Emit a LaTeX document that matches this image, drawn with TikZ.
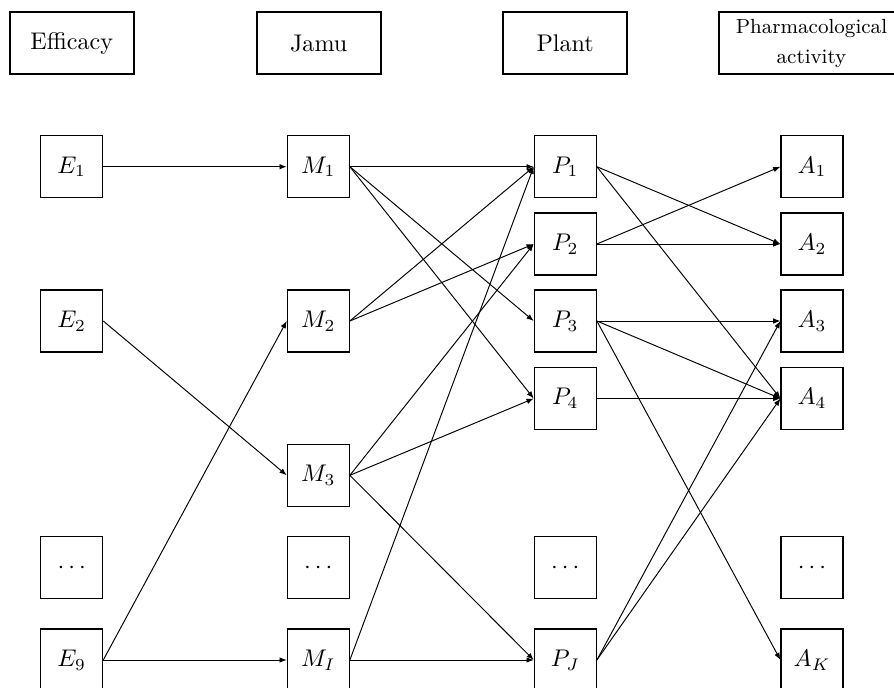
\documentclass[tikz,border=0pt]{standalone}
\usetikzlibrary{arrows.meta}
\begin{document}
\begin{tikzpicture}[x=0.415pt,y=-0.415pt,
  hdr/.style={draw,line width=0.75pt,inner sep=0pt,minimum width=51.5pt,minimum height=25.6pt,font=\fontsize{10}{12}\selectfont},
  box/.style={draw,line width=0.5pt,inner sep=0pt,minimum size=25.7pt},
  arr/.style={line width=0.4pt,-{Latex[length=3pt,width=2.3pt]}}]
\useasboundingbox (0,0) rectangle (894,688);
\clip (0,0) rectangle (894,688);
% headers
\node[hdr] (hE) at (71.7,43.2) {Efficacy};
\node[hdr] (hM) at (318.7,43.2) {Jamu};
\node[hdr] (hP) at (565.2,43.2) {Plant};
\node[hdr,minimum width=76.5pt,align=center,font=\fontsize{8.5}{12.4}\selectfont] (hA) at (811.5,43.2) {Pharmacological\\activity};
% column E
\node[box] (E1) at (71.7,166.7) {$E_1$};
\node[box] (E2) at (71.7,321) {$E_2$};
\node[box] (Ed) at (71.7,567.7) {$\cdots$};
\node[box] (E9) at (71.7,660) {$E_9$};
% column M
\node[box] (M1) at (318.3,166.7) {$M_1$};
\node[box] (M2) at (318.3,321) {$M_2$};
\node[box] (M3) at (318.3,475.3) {$M_3$};
\node[box] (Md) at (318.3,567.7) {$\cdots$};
\node[box] (MI) at (318.3,660) {$M_I$};
% column P
\node[box] (P1) at (565.3,166.7) {$P_1$};
\node[box] (P2) at (565.3,244) {$P_2$};
\node[box] (P3) at (565.3,321) {$P_3$};
\node[box] (P4) at (565.3,398.5) {$P_4$};
\node[box] (Pd) at (565.3,567.7) {$\cdots$};
\node[box] (PJ) at (565.3,660) {$P_J$};
% column A
\node[box] (A1) at (812,166.7) {$A_1$};
\node[box] (A2) at (812,244) {$A_2$};
\node[box] (A3) at (812,321) {$A_3$};
\node[box] (A4) at (812,398.5) {$A_4$};
\node[box] (Ad) at (812,567.7) {$\cdots$};
\node[box] (AK) at (812,660) {$A_K$};
% E -> M
\draw[arr] (E1.east) -- (M1.west);
\draw[arr] (E2.east) -- (M3.west);
\draw[arr] (E9.east) -- (M2.west);
\draw[arr] (E9.east) -- (MI.west);
% M -> P
\draw[arr] (M1.east) -- (P1.west);
\draw[arr] (M1.east) -- (P3.west);
\draw[arr] (M1.east) -- (P4.west);
\draw[arr] (M2.east) -- (P1.west);
\draw[arr] (M2.east) -- (P2.west);
\draw[arr] (M3.east) -- (P2.west);
\draw[arr] (M3.east) -- (P4.west);
\draw[arr] (M3.east) -- (PJ.west);
\draw[arr] (MI.east) -- (P1.west);
\draw[arr] (MI.east) -- (PJ.west);
% P -> A
\draw[arr] (P1.east) -- (A2.west);
\draw[arr] (P1.east) -- (A4.west);
\draw[arr] (P2.east) -- (A1.west);
\draw[arr] (P2.east) -- (A2.west);
\draw[arr] (P3.east) -- (A3.west);
\draw[arr] (P3.east) -- (A4.west);
\draw[arr] (P3.east) -- (AK.west);
\draw[arr] (P4.east) -- (A4.west);
\draw[arr] (PJ.east) -- (A3.west);
\draw[arr] (PJ.east) -- (A4.west);
\end{tikzpicture}
\end{document}
